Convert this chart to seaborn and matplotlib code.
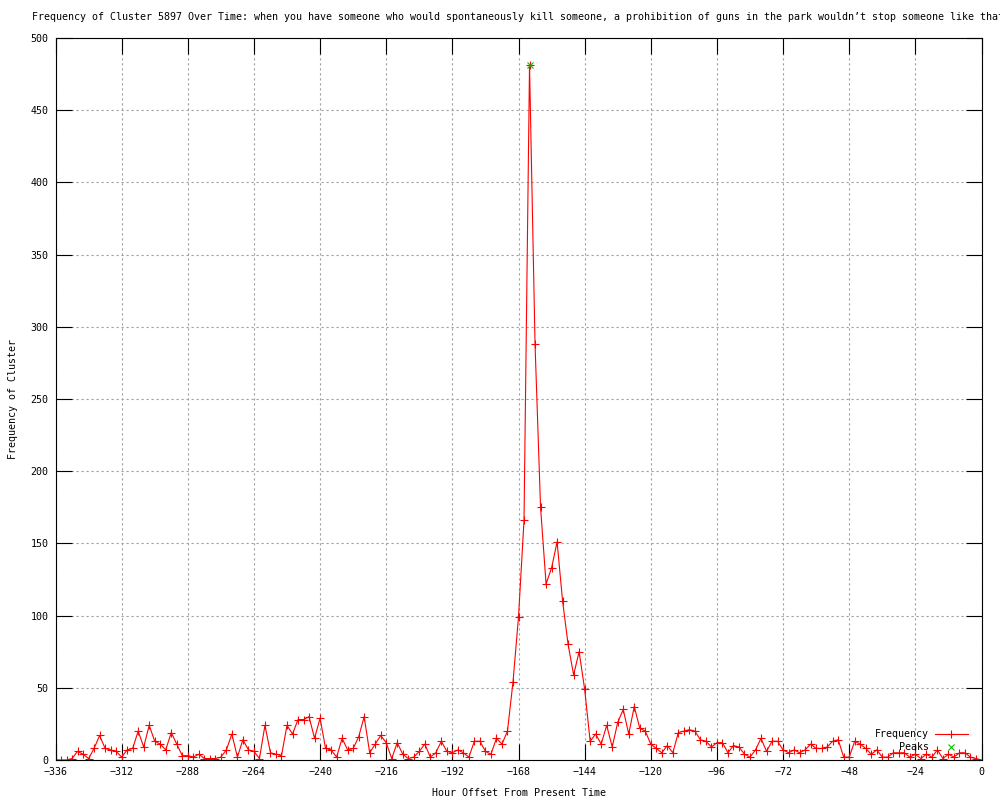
import matplotlib
matplotlib.use("Agg")
import matplotlib.pyplot as plt
import seaborn as sns
import numpy as np

# hour offsets, every 2 hours from -336 to 0
hours = np.arange(-336, 1, 2)

# frequency of cluster per 2-hour bin
freq = [
    0, 0, 0, 1, 6, 4, 1, 8, 17, 8,
    7, 6, 2, 7, 8, 20, 9, 24, 13, 11,
    7, 19, 11, 3, 3, 2, 4, 1, 1, 1,
    2, 7, 18, 2, 14, 7, 6, 1, 24, 5,
    4, 3, 24, 18, 28, 28, 30, 15, 29, 8,
    7, 2, 15, 7, 8, 16, 30, 5, 11, 17,
    12, 1, 12, 4, 1, 2, 6, 11, 2, 5,
    13, 6, 5, 7, 5, 2, 13, 13, 6, 4,
    15, 11, 20, 54, 99, 166, 481, 288, 175, 122,
    133, 151, 110, 80, 59, 75, 49, 13, 18, 11,
    24, 9, 26, 35, 18, 37, 22, 20, 11, 8,
    5, 10, 5, 19, 20, 21, 20, 14, 13, 9,
    12, 12, 5, 10, 9, 4, 2, 7, 15, 6,
    13, 13, 7, 5, 7, 5, 7, 11, 8, 8,
    9, 13, 14, 2, 2, 13, 11, 8, 4, 7,
    2, 2, 5, 5, 5, 2, 4, 1, 4, 2,
    7, 1, 4, 2, 5, 5, 2, 1, 0,
]

peak_hours = [-164]
peak_freq = [481]

x_ticks = np.arange(-336, 1, 24)
y_ticks = np.arange(0, 501, 50)

title = ("Frequency of Cluster 5897 Over Time: when you have someone who would "
         "spontaneously kill someone, a prohibition of guns in the park wouldn\u2019t "
         "stop someone like that")

plt.rcParams['font.family'] = 'DejaVu Sans Mono'
plt.rcParams['font.size'] = 7.2

fig = plt.figure(figsize=(10, 8), dpi=100)
ax = fig.add_axes([0.0555, 0.05, 0.926, 0.9025])

red = '#ff0000'
green = '#00c000'

sns.lineplot(x=hours, y=freq, ax=ax, color=red, linewidth=0.8,
             marker='+', markersize=6, markeredgewidth=0.8,
             markeredgecolor=red, estimator=None, label='Frequency')
sns.lineplot(x=peak_hours, y=peak_freq, ax=ax, color=green, linestyle='none',
             marker='x', markersize=5, markeredgewidth=0.8,
             markeredgecolor=green, estimator=None, label='Peaks')

ax.set_xlim(-336, 0)
ax.set_ylim(0, 500)
ax.set_xticks(x_ticks)
ax.set_yticks(y_ticks)
ax.tick_params(direction='in', length=11.5, width=0.8, top=True, right=True,
               labelsize=7.2, pad=5, colors='black')
ax.grid(True, color='#a0a0a0', linestyle=(0, (2, 2.5)), linewidth=0.8)
ax.set_axisbelow(True)
for s in ax.spines.values():
    s.set_linewidth(0.8)
    s.set_color('black')

ax.set_title(title, fontsize=7.2, pad=13)
ax.set_xlabel('Hour Offset From Present Time', fontsize=7.2, labelpad=8)
ax.set_ylabel('Frequency of Cluster', fontsize=7.2, labelpad=9)

ax.legend(loc='lower right', bbox_to_anchor=(0.994, 0.0), frameon=False,
          markerfirst=False, fontsize=7.2, handlelength=3.3, handletextpad=0.6,
          labelspacing=0.3, borderaxespad=0.4, numpoints=1)

fig.savefig('out.png', dpi=100)
